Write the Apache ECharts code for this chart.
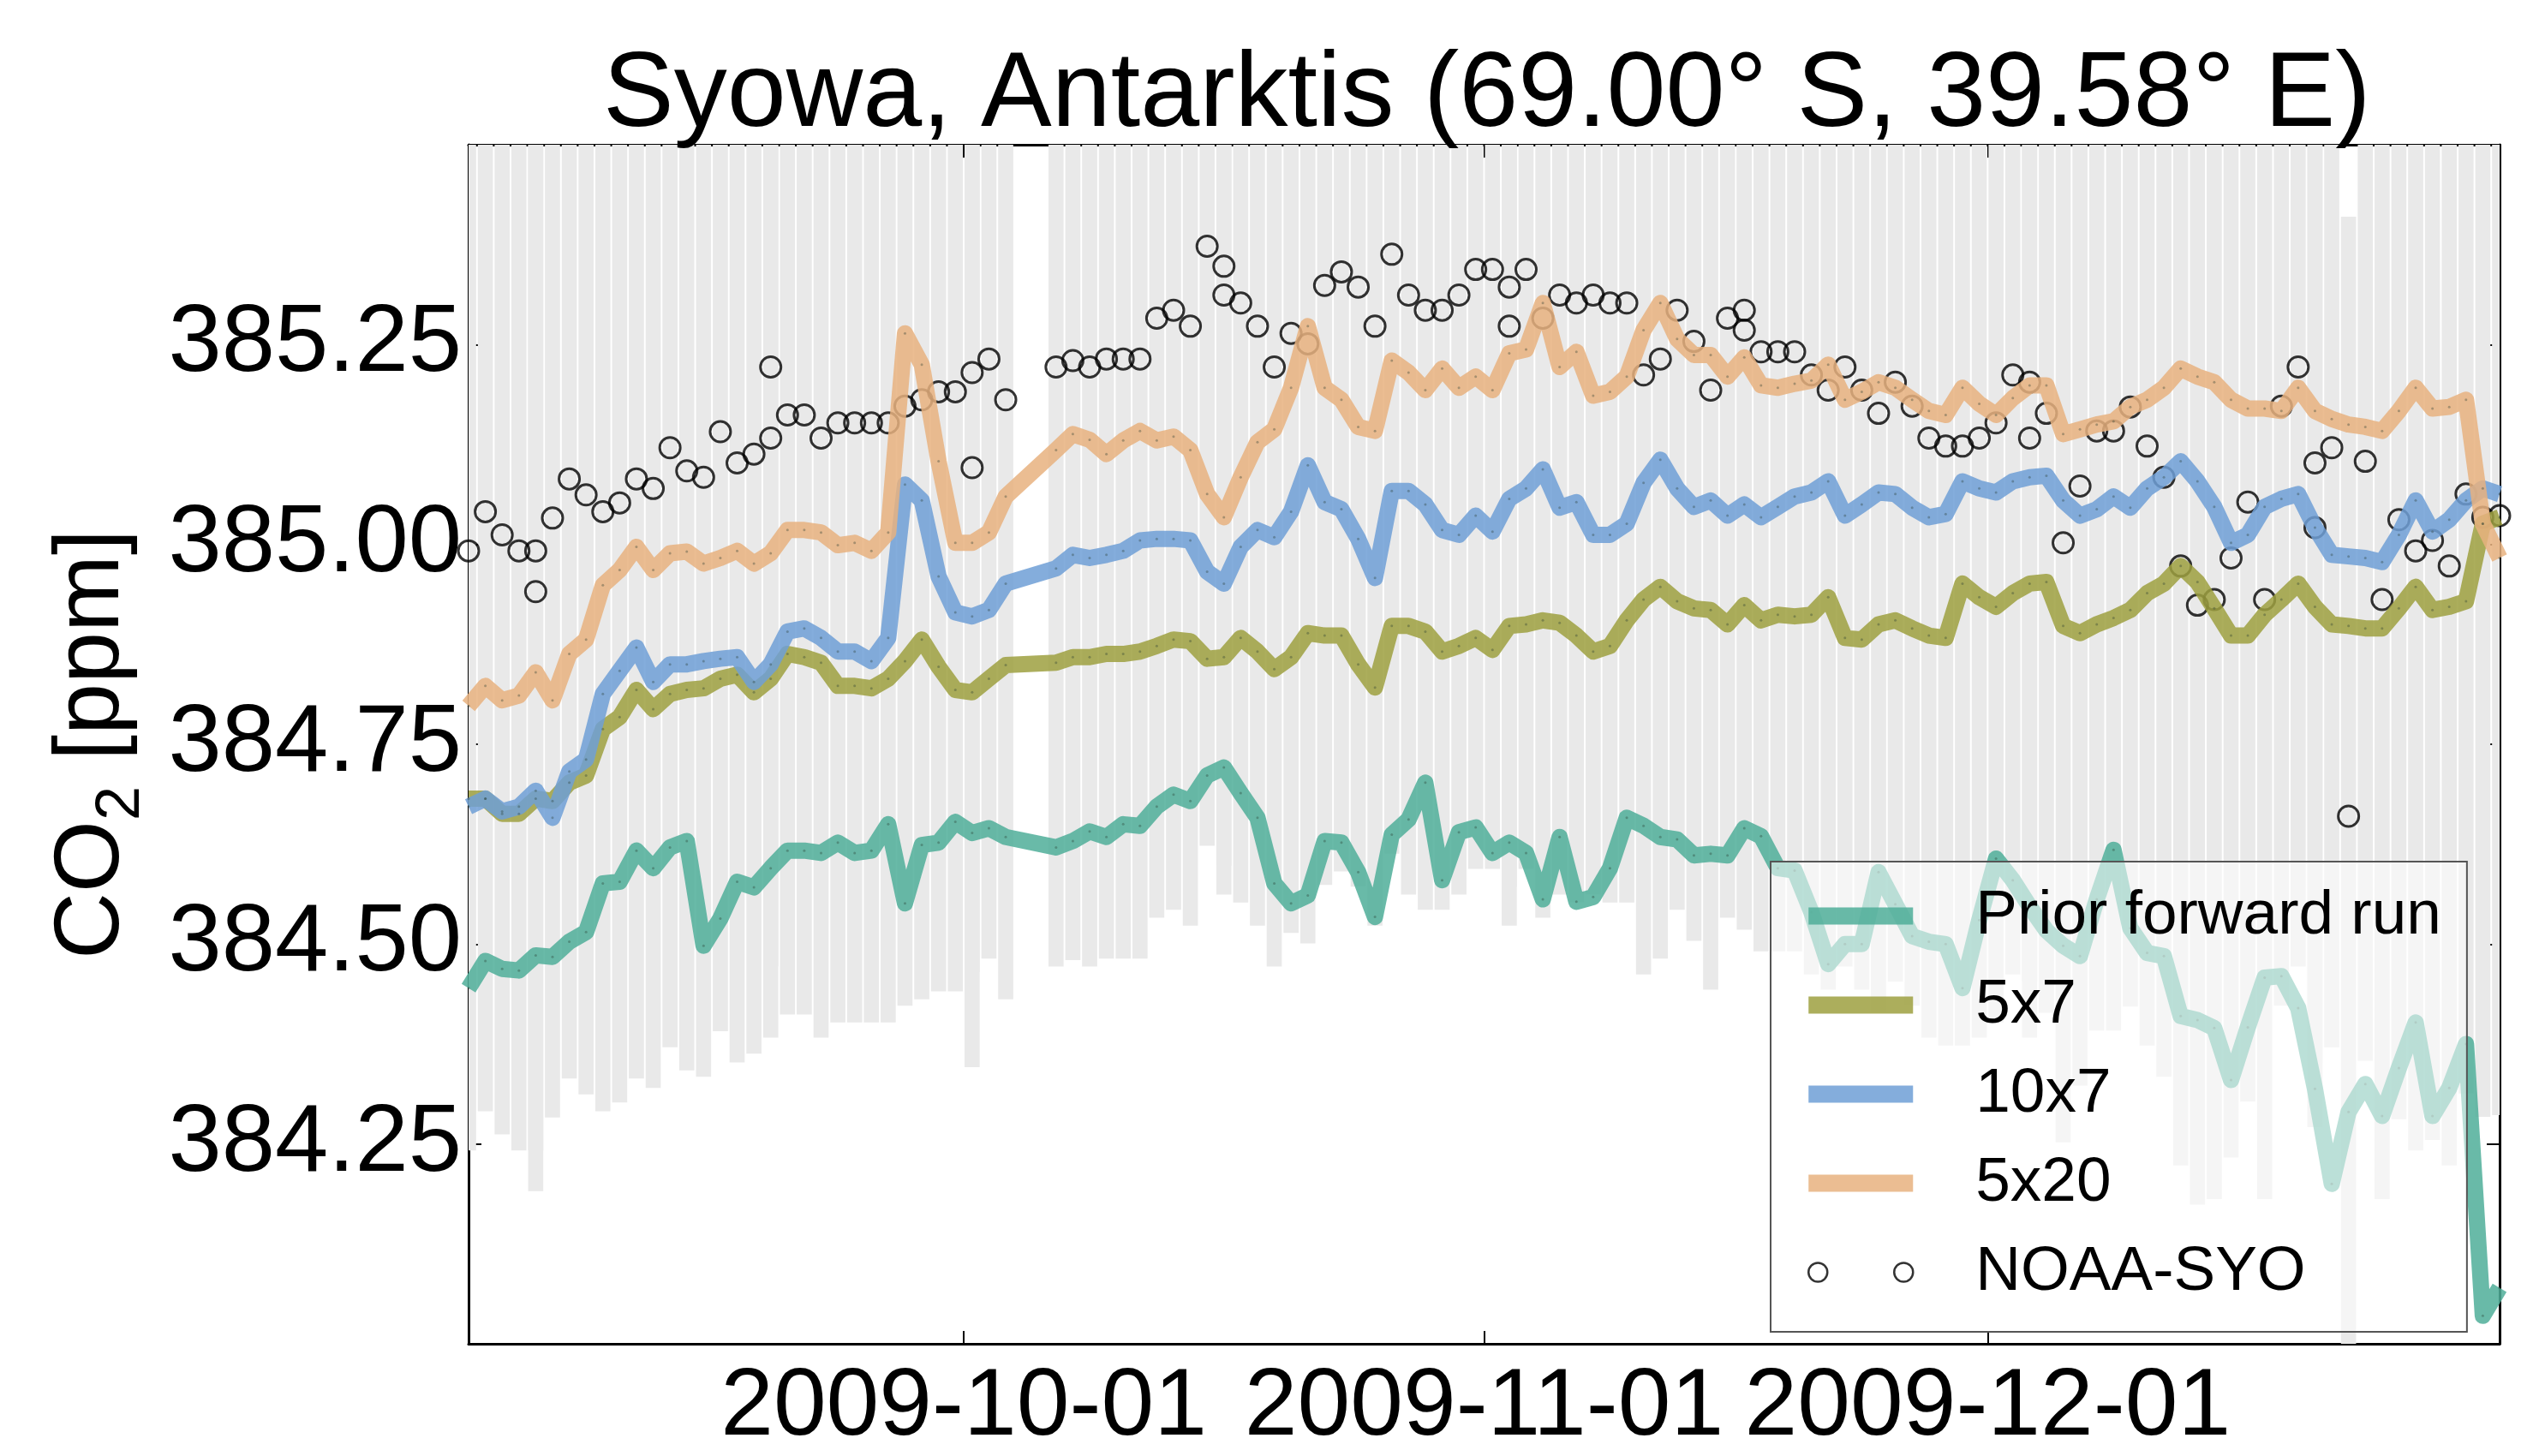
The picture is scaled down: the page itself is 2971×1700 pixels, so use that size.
<!DOCTYPE html>
<html>
<head>
<meta charset="utf-8">
<title>Syowa CO2</title>
<script src="https://cdn.jsdelivr.net/npm/echarts@6/dist/echarts.min.js"></script>
<style>
  html, body { margin: 0; padding: 0; background: #fff; }
  #chart { width: 2971px; height: 1700px; }
</style>
</head>
<body>
<div id="chart"></div>
<script>
// model output, one value per day at 12:00 from 2009-09-01 (null = no output that day)
const priorRun = [
  384.445, 384.479, 384.469, 384.467, 384.486, 384.484, 384.503, 384.515, 384.576, 384.578,
  384.617, 384.595, 384.621, 384.629, 384.498, 384.532, 384.578, 384.571, 384.595, 384.617,
  384.617, 384.614, 384.627, 384.614, 384.617, 384.650, 384.551, 384.624, 384.627, 384.653,
  384.639, 384.645, 384.634, null, null, 384.621, 384.629, 384.641, 384.634, 384.650,
  384.648, 384.672, 384.687, 384.679, 384.711, 384.721, 384.689, 384.658, 384.576, 384.551,
  384.561, 384.629, 384.627, 384.590, 384.534, 384.637, 384.656, 384.702, 384.580, 384.640,
  384.646, 384.614, 384.627, 384.614, 384.556, 384.634, 384.553, 384.559, 384.595, 384.658,
  384.648, 384.634, 384.631, 384.611, 384.613, 384.611, 384.645, 384.635, 384.595, 384.592,
  384.540, 384.475, 384.500, 384.500, 384.590, 384.550, 384.510, 384.503, 384.500, 384.445,
  384.530, 384.607, 384.580, 384.547, 384.517, 384.498, 384.485, 384.556, 384.618, 384.520,
  384.489, 384.485, 384.410, 384.405, 384.395, 384.330, 384.396, 384.458, 384.460, 384.420,
  384.319, 384.200, 384.290, 384.325, 384.285, 384.345, 384.402, 384.285, 384.320, 384.375,
  384.035, 384.070
];
const run5x7 = [
  384.682, 384.682, 384.663, 384.663, 384.682, 384.679, 384.702, 384.711, 384.769, 384.784,
  384.818, 384.794, 384.813, 384.818, 384.820, 384.832, 384.837, 384.815, 384.832, 384.863,
  384.859, 384.852, 384.823, 384.823, 384.820, 384.832, 384.854, 384.881, 384.847, 384.818,
  384.815, 384.832, 384.849, null, null, 384.852, 384.859, 384.859, 384.863, 384.863,
  384.866, 384.873, 384.881, 384.879, 384.857, 384.859, 384.883, 384.866, 384.844, 384.859,
  384.889, 384.886, 384.886, 384.850, 384.821, 384.898, 384.898, 384.891, 384.866, 384.873,
  384.883, 384.868, 384.898, 384.900, 384.905, 384.902, 384.886, 384.866, 384.873, 384.905,
  384.931, 384.947, 384.929, 384.920, 384.918, 384.900, 384.924, 384.905, 384.912, 384.910,
  384.912, 384.934, 384.883, 384.881, 384.900, 384.905, 384.895, 384.886, 384.883, 384.951,
  384.934, 384.922, 384.939, 384.951, 384.953, 384.898, 384.889, 384.900, 384.908, 384.918,
  384.939, 384.951, 384.973, 384.953, 384.920, 384.886, 384.886, 384.912, 384.931, 384.951,
  384.922, 384.900, 384.898, 384.895, 384.895, 384.920, 384.947, 384.918, 384.922, 384.929,
  385.026, 385.034
];
const run10x7 = [
  384.672, 384.682, 384.666, 384.672, 384.692, 384.658, 384.716, 384.731, 384.813, 384.842,
  384.871, 384.828, 384.850, 384.850, 384.854, 384.857, 384.859, 384.828, 384.850, 384.891,
  384.895, 384.883, 384.866, 384.866, 384.854, 384.883, 385.075, 385.055, 384.960, 384.915,
  384.910, 384.918, 384.951, null, null, 384.970, 384.987, 384.983, 384.987, 384.992,
  385.005, 385.007, 385.007, 385.005, 384.966, 384.951, 384.997, 385.018, 385.009, 385.041,
  385.099, 385.053, 385.044, 385.007, 384.958, 385.067, 385.067, 385.050, 385.018, 385.012,
  385.036, 385.016, 385.057, 385.070, 385.094, 385.046, 385.053, 385.012, 385.012, 385.026,
  385.077, 385.106, 385.070, 385.047, 385.055, 385.036, 385.050, 385.034, 385.047, 385.060,
  385.065, 385.079, 385.036, 385.050, 385.065, 385.063, 385.046, 385.034, 385.038, 385.079,
  385.070, 385.065, 385.079, 385.084, 385.086, 385.055, 385.036, 385.044, 385.060, 385.046,
  385.070, 385.084, 385.104, 385.079, 385.047, 385.002, 385.012, 385.047, 385.057, 385.063,
  385.021, 384.987, 384.985, 384.983, 384.978, 385.012, 385.055, 385.016, 385.031, 385.055,
  385.070, 385.063
];
const run5x20 = [
  384.798, 384.823, 384.805, 384.811, 384.840, 384.805, 384.863, 384.881, 384.949, 384.968,
  384.997, 384.968, 384.989, 384.991, 384.976, 384.983, 384.992, 384.976, 384.989, 385.018,
  385.018, 385.015, 384.999, 385.002, 384.992, 385.015, 385.264, 385.225, 385.104, 385.002,
  385.002, 385.015, 385.060, null, null, 385.118, 385.138, 385.131, 385.113, 385.130,
  385.142, 385.130, 385.135, 385.118, 385.063, 385.034, 385.084, 385.128, 385.144, 385.196,
  385.273, 385.196, 385.181, 385.147, 385.142, 385.230, 385.215, 385.193, 385.220, 385.196,
  385.210, 385.193, 385.239, 385.244, 385.302, 385.222, 385.241, 385.186, 385.191, 385.210,
  385.268, 385.302, 385.257, 385.237, 385.237, 385.210, 385.234, 385.199, 385.196, 385.201,
  385.205, 385.225, 385.181, 385.191, 385.203, 385.196, 385.181, 385.167, 385.162, 385.196,
  385.176, 385.162, 385.183, 385.199, 385.199, 385.138, 385.144, 385.150, 385.154, 385.172,
  385.181, 385.196, 385.220, 385.210, 385.203, 385.181, 385.170, 385.170, 385.167, 385.196,
  385.167, 385.157, 385.150, 385.147, 385.142, 385.167, 385.196, 385.170, 385.172, 385.181,
  385.026, 384.983
];

// NOAA-SYO samples: day number counted from 2009-09-01 and the measured value
const obsDay = [
  0, 1, 2, 3, 4, 4, 5, 6, 7, 8, 9, 10, 11, 12, 13, 14, 15, 16, 17, 18, 18, 19, 20,
  21, 22, 23, 24, 25, 26, 27, 28, 29, 30, 30, 31, 32,
  35, 36, 37, 38, 39, 40, 41, 42, 43, 44, 45, 45, 46, 47, 48, 49, 50, 51, 52, 53, 54,
  55, 56, 57, 58, 59, 60, 61, 62, 62, 63, 64, 65, 66, 67, 68, 69, 70, 71, 72, 73, 74,
  75, 76, 76, 77, 78, 79, 80, 81, 82, 83, 84, 85, 86, 87, 88, 89, 90, 91, 92, 93, 93,
  94, 95, 96, 97, 98, 99, 100, 101, 102, 103, 104, 105, 106, 107, 108, 109, 110, 110,
  111, 112, 113, 114, 115, 116, 117, 118, 119, 120, 121
];
const obsCO2 = [
  384.992, 385.041, 385.012, 384.992, 384.992, 384.941, 385.033, 385.082, 385.062, 385.041,
  385.052, 385.082, 385.070, 385.121, 385.092, 385.084, 385.141, 385.102, 385.113, 385.133,
  385.222, 385.162, 385.162, 385.133, 385.152, 385.152, 385.152, 385.152, 385.173, 385.181,
  385.191, 385.191, 385.215, 385.096, 385.232, 385.181,
  385.222, 385.230, 385.222, 385.232, 385.232, 385.232, 385.283, 385.293, 385.273, 385.373,
  385.348, 385.312, 385.302, 385.273, 385.222, 385.264, 385.251, 385.324, 385.341, 385.322,
  385.273, 385.363, 385.312, 385.293, 385.293, 385.312, 385.344, 385.344, 385.322, 385.273,
  385.344, 385.283, 385.312, 385.302, 385.312, 385.302, 385.302, 385.212, 385.232, 385.293,
  385.254, 385.193, 385.283, 385.293, 385.268, 385.241, 385.241, 385.241, 385.212, 385.193,
  385.222, 385.193, 385.164, 385.203, 385.173, 385.133, 385.123, 385.123, 385.133, 385.152,
  385.212, 385.203, 385.133, 385.164, 385.002, 385.073, 385.142, 385.142, 385.172, 385.123,
  385.084, 384.973, 384.924, 384.931, 384.983, 385.053, 384.931, 385.173, 385.222, 385.102,
  385.021, 385.121, 384.660, 385.104, 384.931, 385.031, 384.992, 385.005, 384.973, 385.063,
  385.034, 385.036
];
const obsErr = 0.75;

const seriesNames = ['Prior forward run', '5x7', '10x7', '5x20', 'NOAA-SYO'];
const seriesColors = ['#4fae99', '#9ea03f', '#6f9fd6', '#e8b27f'];
const xTickDates = ['2009-10-01', '2009-11-01', '2009-12-01'];
const yMin = 384.0, yMax = 385.5, yStep = 0.25;

const FONT = 'Liberation Sans, Arial, Helvetica, sans-serif';
const DAY = 86400000;

function dayTime(d) {
  return new Date(2009, 8, 1 + d, 12).getTime();
}
function dateTime(s) {
  const p = s.split('-').map(Number);
  return new Date(p[0], p[1] - 1, p[2]).getTime();
}
function pad2(n) { return n < 10 ? '0' + n : '' + n; }
function fmtDate(v) {
  const d = new Date(v);
  return d.getFullYear() + '-' + pad2(d.getMonth() + 1) + '-' + pad2(d.getDate());
}
const xMin = dayTime(0);
const xMax = dayTime(priorRun.length - 1);
const xTicks = xTickDates.map(dateTime);

function lineSeries(name, values, color) {
  const pts = [];
  values.forEach(function (v, i) { if (v !== null) pts.push([dayTime(i), v]); });
  return {
    name: name,
    type: 'line',
    data: pts,
    z: 3,
    symbol: 'circle',
    symbolSize: 3,
    itemStyle: { color: 'rgba(40,60,50,0.35)' },
    lineStyle: { width: 19, color: color, opacity: 0.85, join: 'round' },
    emphasis: { disabled: true },
    animation: false
  };
}

const chart = echarts.init(document.getElementById('chart'));

// legend handles drawn in a 122x24 box
const lineIcon = 'path://M0,0 M122,24 M0,2 L122,2 L122,22 L0,22 Z';
const obsIcon = 'path://M0,0 M122,24 M0,12 A11,11 0 1,0 22,12 A11,11 0 1,0 0,12 Z M100,12 A11,11 0 1,0 122,12 A11,11 0 1,0 100,12 Z';

const tickStyle = { show: true, inside: true, length: 15, lineStyle: { color: '#000', width: 2 } };
const frameLine = { show: true, onZero: false, lineStyle: { color: '#000', width: 3 } };

const option = {
  backgroundColor: '#fff',
  animation: false,
  title: {
    text: 'Syowa, Antarktis (69.00° S, 39.58° E)',
    left: 704,
    top: 51,
    padding: 0,
    textStyle: { fontSize: 124, fontWeight: 'normal', fontFamily: FONT, color: '#000' }
  },
  grid: { left: 547, right: 53, top: 169, bottom: 109, containLabel: false },
  legend: {
    left: 2067,
    top: 1006,
    orient: 'vertical',
    padding: [27, 30, 33, 43],
    itemWidth: 122,
    itemHeight: 24,
    itemGap: 31,
    backgroundColor: 'rgba(255,255,255,0.55)',
    borderColor: '#555',
    borderWidth: 2,
    borderRadius: 0,
    selectedMode: false,
    textStyle: { fontSize: 73, fontFamily: FONT, color: '#000', lineHeight: 72, padding: [0, 0, 0, 68] },
    data: [
      { name: seriesNames[0], icon: lineIcon, itemStyle: { color: seriesColors[0], opacity: 0.85 } },
      { name: seriesNames[1], icon: lineIcon, itemStyle: { color: seriesColors[1], opacity: 0.85 } },
      { name: seriesNames[2], icon: lineIcon, itemStyle: { color: seriesColors[2], opacity: 0.85 } },
      { name: seriesNames[3], icon: lineIcon, itemStyle: { color: seriesColors[3], opacity: 0.85 } },
      { name: seriesNames[4], icon: obsIcon, itemStyle: { color: 'rgba(0,0,0,0)', borderColor: '#000', borderWidth: 2.5 } }
    ]
  },
  xAxis: [
    {
      type: 'value',
      min: xMin,
      max: xMax,
      axisLine: frameLine,
      axisTick: Object.assign({ customValues: xTicks }, tickStyle),
      axisLabel: {
        customValues: xTicks,
        margin: 20,
        fontSize: 111,
        fontFamily: FONT,
        color: '#000',
        formatter: fmtDate
      },
      splitLine: { show: false }
    },
    {
      type: 'value',
      position: 'top',
      min: xMin,
      max: xMax,
      axisLine: frameLine,
      axisTick: Object.assign({ customValues: xTicks }, tickStyle),
      axisLabel: { show: false },
      splitLine: { show: false }
    }
  ],
  yAxis: [
    {
      type: 'value',
      min: yMin,
      max: yMax,
      interval: yStep,
      name: '{a|CO}{b|2}{a| [ppm]}',
      nameLocation: 'middle',
      nameGap: 385,
      nameTextStyle: {
        fontFamily: FONT,
        color: '#000',
        rich: {
          a: { fontSize: 108, fontFamily: FONT, color: '#000', lineHeight: 108, verticalAlign: 'top' },
          b: { fontSize: 72, fontFamily: FONT, color: '#000', lineHeight: 72, verticalAlign: 'top', padding: [52, 0, 0, 0] }
        }
      },
      axisLine: frameLine,
      axisTick: tickStyle,
      axisLabel: {
        margin: 8,
        fontSize: 112,
        fontFamily: FONT,
        color: '#000',
        showMinLabel: false,
        showMaxLabel: false,
        formatter: function (v) { return v.toFixed(2); }
      },
      splitLine: { show: false }
    },
    {
      type: 'value',
      position: 'right',
      min: yMin,
      max: yMax,
      interval: yStep,
      axisLine: frameLine,
      axisTick: tickStyle,
      axisLabel: { show: false },
      splitLine: { show: false }
    }
  ],
  series: [
    {
      name: 'NOAA-SYO uncertainty',
      type: 'custom',
      z: 1,
      silent: true,
      clip: true,
      data: obsDay.map(function (d, k) { return [dayTime(d), obsCO2[k] - obsErr, obsCO2[k] + obsErr]; }),
      encode: { x: 0, y: [1, 2] },
      renderItem: function (params, api) {
        const lo = api.coord([api.value(0), api.value(1)]);
        const hi = api.coord([api.value(0), api.value(2)]);
        const w = api.size([DAY * 0.9, 0])[0];
        return {
          type: 'rect',
          shape: { x: lo[0] - w / 2, y: hi[1], width: w, height: lo[1] - hi[1] },
          style: { fill: '#e9e9e9' }
        };
      }
    },
    {
      name: seriesNames[4],
      type: 'scatter',
      z: 2,
      symbol: 'circle',
      symbolSize: 24,
      itemStyle: { color: 'rgba(0,0,0,0)', borderColor: '#000', borderWidth: 3 },
      data: obsDay.map(function (d, k) { return [dayTime(d), obsCO2[k]]; })
    },
    lineSeries(seriesNames[0], priorRun, seriesColors[0]),
    lineSeries(seriesNames[1], run5x7, seriesColors[1]),
    lineSeries(seriesNames[2], run10x7, seriesColors[2]),
    lineSeries(seriesNames[3], run5x20, seriesColors[3])
  ]
};

chart.setOption(option);
</script>
</body>
</html>
